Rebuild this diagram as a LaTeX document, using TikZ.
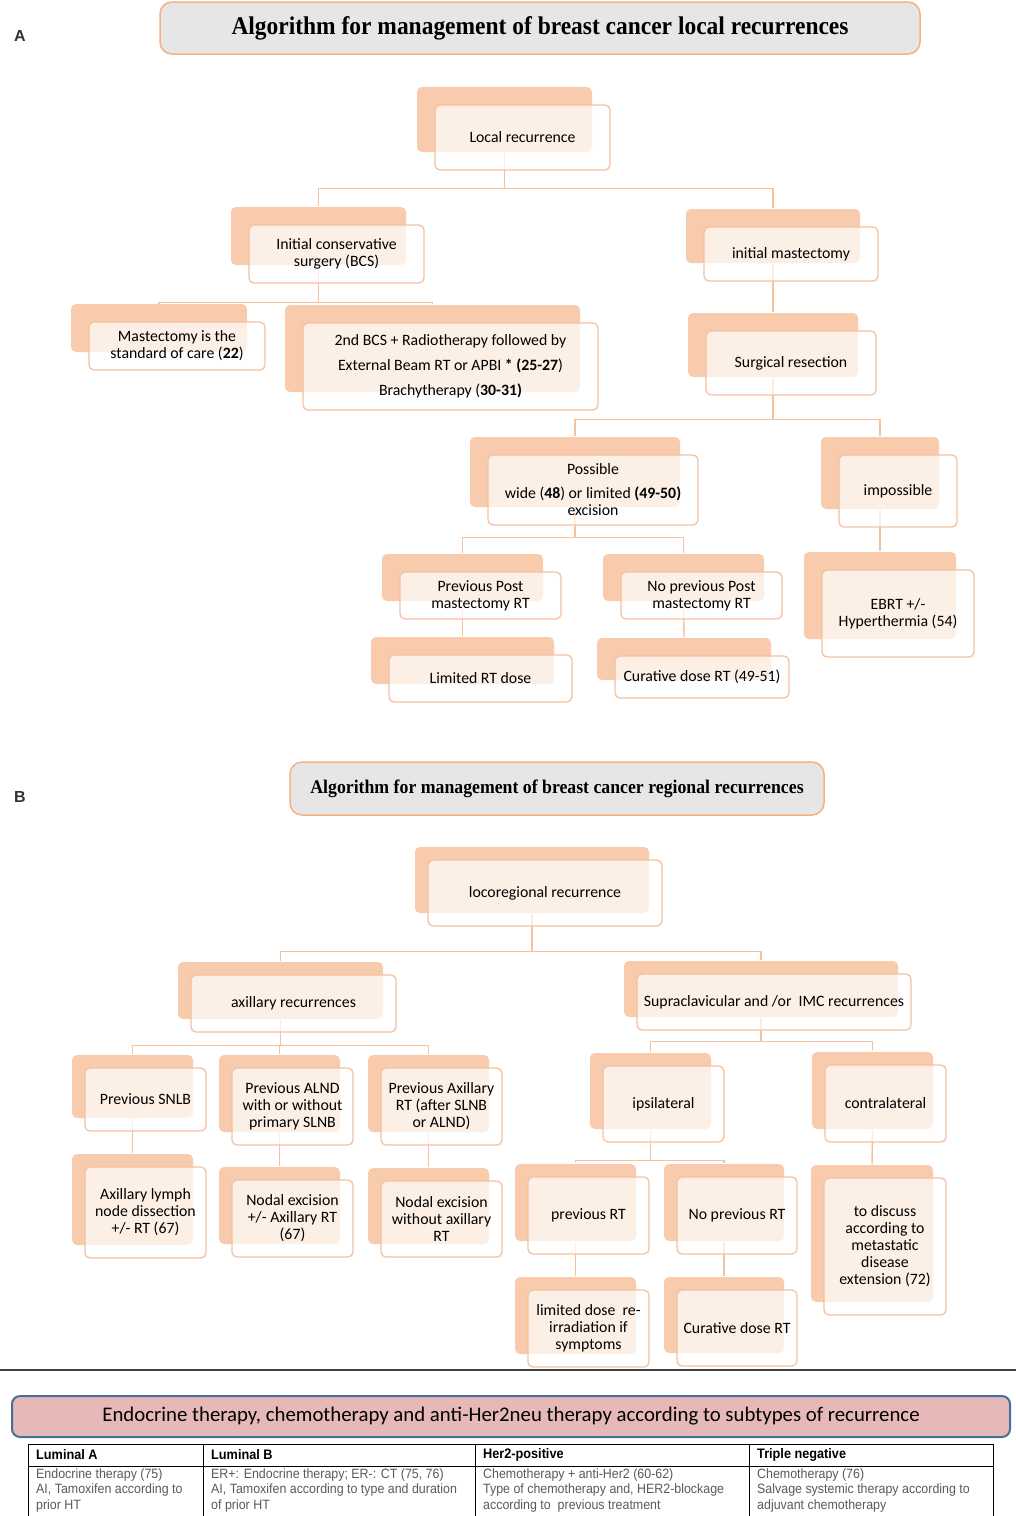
\documentclass[tikz,border=0pt]{standalone}
\usepackage{fontspec}
\setmainfont{Carlito}
\setsansfont{Liberation Sans}
\newfontfamily\titlefont[FakeStretch=0.92]{Liberation Serif}
\newfontfamily\tabfont[FakeStretch=0.92]{Liberation Sans}
\usetikzlibrary{shadows, backgrounds}

\definecolor{peach}{HTML}{F8CBAD}
\definecolor{peachline}{HTML}{F5C19F}
\definecolor{titlegray}{HTML}{E7E6E6}
\definecolor{titleedge}{HTML}{F4B183}
\definecolor{rosebox}{HTML}{E6B9B8}
\definecolor{blueedge}{HTML}{41719C}
\definecolor{bodygray}{HTML}{595959}

\begin{document}
\begin{tikzpicture}[x=1pt, y=-1pt,
  recbox/.style={draw=peachline, line width=1.3pt, rounded corners=5pt,
    fill=white, fill opacity=0.7, text opacity=1, align=center, inner sep=1pt,
    font=\fontsize{15.8}{17}\selectfont,
    general shadow={shadow xshift=-#1, shadow yshift=#1, fill=peach, draw=none, fill opacity=1}},
  boxa/.style={recbox=18pt},
  boxb/.style={recbox=13pt},
  bka/.style={xshift=-18pt, yshift=18pt},
  bkb/.style={xshift=-13pt, yshift=13pt},
  link/.style={draw=peachline, line width=1.4pt},
  titlebox/.style={draw=titleedge, line width=1.5pt, fill=titlegray, rounded corners=12pt},
  tabline/.style={draw=black, line width=0.8pt}]
\useasboundingbox (0,0) rectangle (1016,1516);

% section labels
\node [font=\sffamily\bfseries\fontsize{16}{18}\selectfont, text=black!80] (labA) at (20,36) {A};
\node [font=\sffamily\bfseries\fontsize{16}{18}\selectfont, text=black!80] (labB) at (20,797) {B};

% A: local recurrences
\node [titlebox, minimum width=760, minimum height=52, font=\titlefont\bfseries\fontsize{25.5}{27}\selectfont] (titA) at (540,28)
  {Algorithm for management of breast cancer local recurrences};

\node [boxa, minimum width=175, minimum height=65] (lrec) at (522.5,137.5) {Local recurrence};
\node [boxa, minimum width=175, minimum height=58] (bcs) at (336.5,254) {Initial conservative\\surgery (BCS)};
\node [boxa, minimum width=174, minimum height=54] (imast) at (791,254) {initial mastectomy};
\node [boxa, minimum width=176, minimum height=48] (mstd) at (177,346) {Mastectomy is the\\standard of care (\textbf{22})};
\node [boxa, minimum width=295, minimum height=87] (bcs2) at (450.5,366.5)
  {2nd BCS + Radiotherapy followed by\\[8pt]External Beam RT or APBI \textbf{* (25-27})\\[8pt]Brachytherapy (\textbf{30-31)}};
\node [boxa, minimum width=170, minimum height=64] (surg) at (791,363) {Surgical resection};
\node [boxa, minimum width=210, minimum height=70] (poss) at (593,490)
  {Possible\\[7pt]wide (\textbf{48}) or limited \textbf{(49-50)}\\excision};
\node [boxa, minimum width=118, minimum height=72] (imposs) at (898,491) {impossible};
\node [boxa, minimum width=161, minimum height=47] (prevpm) at (480.5,595.5) {Previous Post\\mastectomy RT};
\node [boxa, minimum width=161, minimum height=47] (noprevpm) at (701.5,595.5) {No previous Post\\mastectomy RT};
\node [boxa, minimum width=152, minimum height=87] (ebrt) at (898,613.5) {EBRT +/-\\Hyperthermia (54)};
\node [boxa, minimum width=183, minimum height=47] (limrt) at (480.5,678.5) {Limited RT dose};
\node [boxa, minimum width=174, minimum height=42] (curA) at (702,677) {Curative dose RT (49-51)};

% B: regional recurrences
\node [titlebox, minimum width=534, minimum height=53, font=\titlefont\bfseries\fontsize{19.3}{21}\selectfont] (titB) at (557,788.5)
  {Algorithm for management of breast cancer regional recurrences};

\node [boxb, minimum width=234, minimum height=66] (locoreg) at (545,893) {locoregional recurrence};
\node [boxb, minimum width=205, minimum height=57] (axrec) at (293.5,1003.5) {axillary recurrences};
\node [boxb, minimum width=274, minimum height=56] (supra) at (774,1002) {Supraclavicular and /or\ \ IMC recurrences};
\node [boxb, minimum width=121, minimum height=63] (psnlb) at (145.5,1099.5) {Previous SNLB};
\node [boxb, minimum width=121, minimum height=77] (palnd) at (292.5,1106.5) {Previous ALND\\with or without\\primary SLNB};
\node [boxb, minimum width=121, minimum height=77] (paxrt) at (441.5,1106.5) {Previous Axillary\\RT (after SLNB\\or ALND)};
\node [boxb, minimum width=121, minimum height=91] (alnd) at (145.5,1212.5) {Axillary lymph\\node dissection\\+/- RT (67)};
\node [boxb, minimum width=121, minimum height=77] (nodex) at (292.5,1218.5) {Nodal excision\\+/- Axillary RT\\(67)};
\node [boxb, minimum width=121, minimum height=76] (nodexw) at (441.5,1219) {Nodal excision\\without axillary\\RT};
\node [boxb, minimum width=121, minimum height=76] (ipsi) at (663.5,1104) {ipsilateral};
\node [boxb, minimum width=121, minimum height=77] (contra) at (885.5,1103.5) {contralateral};
\node [boxb, minimum width=121, minimum height=77] (prevrt) at (588.5,1215.5) {previous RT};
\node [boxb, minimum width=120, minimum height=77] (noprevrt) at (737,1215.5) {No previous RT};
\node [boxb, minimum width=122, minimum height=137] (discuss) at (885,1246.5)
  {to discuss\\according to\\metastatic\\disease\\extension (72)};
\node [boxb, minimum width=121, minimum height=77] (limdose) at (588.5,1328.5) {limited dose\ \ re-\\irradiation if\\symptoms};
\node [boxb, minimum width=120, minimum height=76] (curB) at (737,1328) {Curative dose RT};

% connectors
\begin{scope}[on background layer]
\draw [link] ([bka]lrec.south) -- ++(0,36) -| ([bka]bcs.north);
\draw [link] ([bka]lrec.south) -- ++(0,36) -| ([bka]imast.north);
\draw [link] ([bka]bcs.south) -- ++(0,37) -| ([bka]mstd.north);
\draw [link] ([bka]bcs.south) -- ++(0,37) -| ([bka]bcs2.north);
\draw [link] ([bka]imast.south) -- ([bka]surg.north);
\draw [link] ([bka]surg.south) -- ++(0,42) -| ([bka]poss.north);
\draw [link] ([bka]surg.south) -- ++(0,42) -| ([bka]imposs.north);
\draw [link] ([bka]poss.south) -- ++(0,30) -| ([bka]prevpm.north);
\draw [link] ([bka]poss.south) -- ++(0,30) -| ([bka]noprevpm.north);
\draw [link] ([bka]imposs.south) -- ([bka]ebrt.north);
\draw [link] ([bka]prevpm.south) -- ([bka]limrt.north);
\draw [link] ([bka]noprevpm.south) -- ([bka]curA.north);

\draw [link] ([bkb]locoreg.south) -- ++(0,38) -| ([bkb]axrec.north);
\draw [link] ([bkb]locoreg.south) -- ++(0,38) -| ([bkb]supra.north);
\draw [link] ([bkb]axrec.south) -- ++(0,26) -| ([bkb]psnlb.north);
\draw [link] ([bkb]axrec.south) -- ++(0,26) -| ([bkb]palnd.north);
\draw [link] ([bkb]axrec.south) -- ++(0,26) -| ([bkb]paxrt.north);
\draw [link] ([bkb]supra.south) -- ++(0,24) -| ([bkb]ipsi.north);
\draw [link] ([bkb]supra.south) -- ++(0,24) -| ([bkb]contra.north);
\draw [link] ([bkb]psnlb.south) -- ([bkb]alnd.north);
\draw [link] ([bkb]palnd.south) -- ([bkb]nodex.north);
\draw [link] ([bkb]paxrt.south) -- ([bkb]nodexw.north);
\draw [link] ([bkb]ipsi.south) -- ++(0,31) -| ([bkb]prevrt.north);
\draw [link] ([bkb]ipsi.south) -- ++(0,31) -| ([bkb]noprevrt.north);
\draw [link] ([bkb]contra.south) -- ([bkb]discuss.north);
\draw [link] ([bkb]prevrt.south) -- ([bkb]limdose.north);
\draw [link] ([bkb]noprevrt.south) -- ([bkb]curB.north);
\end{scope}

% systemic therapy
\draw [draw=black!75, line width=1.2pt] (0,1370) -- (1016,1370);
\node [draw=blueedge, line width=2pt, fill=rosebox, rounded corners=8pt, minimum width=998, minimum height=41,
  font=\fontsize{20.8}{22}\selectfont] (systh) at (511,1416.5)
  {Endocrine therapy, chemotherapy and anti-Her2neu therapy according to subtypes of recurrence};

\draw [tabline] (28,1444) -- (993,1444);
\draw [tabline] (28,1466) -- (993,1466);
\foreach \x in {28,203,475,749,993}
  \draw [tabline] (\x,1444) -- (\x,1516);

\begin{scope}[every node/.style={anchor=west, inner sep=0pt, font=\tabfont\bfseries\fontsize{13.8}{15}\selectfont}]
\node (hlA) at (36,1455) {Luminal A};
\node (hlB) at (211,1455) {Luminal B};
\node (hher) at (483,1455) {Her2-positive};
\node (htri) at (757,1455) {Triple negative};
\end{scope}
\begin{scope}[every node/.style={anchor=north west, inner sep=0pt, align=left, text=bodygray,
    font=\tabfont\fontsize{13.5}{15.5}\selectfont}]
\node (blA) at (36,1468) {Endocrine therapy (75)\\AI, Tamoxifen according to\\prior HT};
\node (blB) at (211,1468) {ER+: Endocrine therapy; ER-: CT (75, 76)\\AI, Tamoxifen according to type and duration\\of prior HT};
\node (bher) at (483,1468) {Chemotherapy + anti-Her2 (60-62)\\Type of chemotherapy and, HER2-blockage\\according to\ \ previous treatment};
\node (btri) at (757,1468) {Chemotherapy (76)\\Salvage systemic therapy according to\\adjuvant chemotherapy};
\end{scope}
\end{tikzpicture}
\end{document}
